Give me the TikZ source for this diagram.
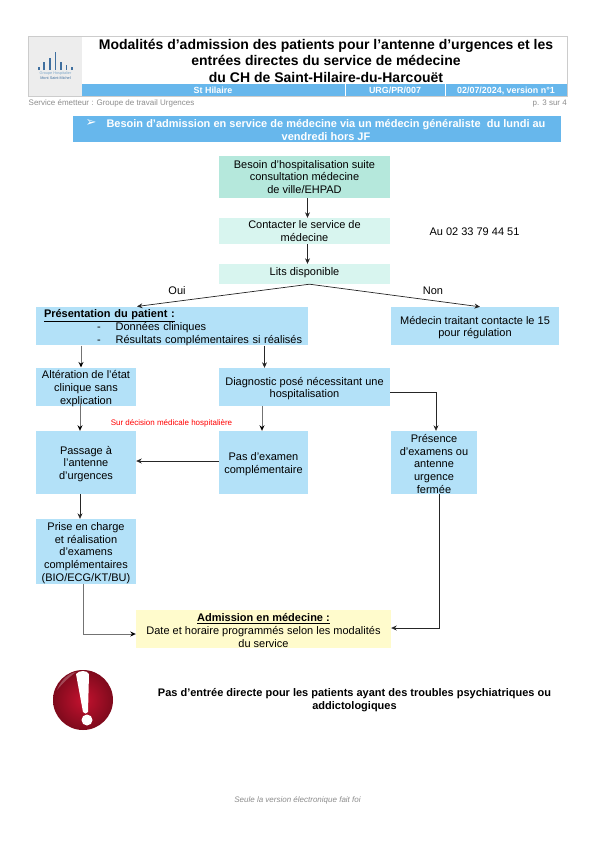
\documentclass[tikz,border=0pt]{standalone}
\usepackage{fontspec}
\setmainfont{Liberation Sans}
\newfontfamily\symbolfont{DejaVu Sans}
\usepackage{tikz}
\usetikzlibrary{positioning,shadings,arrows.meta}

\definecolor{barblue}{HTML}{67B7EC}
\definecolor{boxblue}{HTML}{B3E1F8}
\definecolor{boxmint}{HTML}{B5E8DC}
\definecolor{boxpale}{HTML}{D8F5EF}
\definecolor{boxyellow}{HTML}{FFFBCC}
\definecolor{logoblue}{HTML}{3F6F9F}
\definecolor{logopale}{HTML}{7FA8C9}
\definecolor{alertred}{HTML}{C4122F}
\definecolor{alertdark}{HTML}{7E0A1C}

\newcommand{\lift}{\rule{0pt}{11pt}}

\tikzset{
  flowbox/.style={fill=boxblue, inner xsep=1pt, inner ysep=0pt, align=center},
  flowlink/.style={->, line width=0.7pt, black!85},
  greylink/.style={-{Stealth[length=5.5pt,width=5pt,black]}, line width=1pt, black!55},
  greynote/.style={black!45, font=\fontsize{8}{9}\selectfont},
  headcell/.style={white, anchor=base, inner sep=0pt, font=\fontsize{8.9}{10}\selectfont\bfseries},
  logobar/.style={logoblue, line width=1.1pt}
}

\begin{document}
\begin{tikzpicture}[x=1pt, y=-1pt, >={Stealth[length=5.5pt,width=5pt]}, every node/.style={font=\fontsize{11}{12.7}\selectfont}]
  \useasboundingbox (0,0) rectangle (595,841);

  % Header frame
  \fill[black!7] (28,36) rectangle (82,96);
  \draw[black!20, line width=0.6pt] (28,36) rectangle (567,96);
  \fill[barblue] (82,84) rectangle (567,96);
  \draw[white, line width=0.7pt] (345,84) -- (345,96);
  \draw[white, line width=0.7pt] (445,84) -- (445,96);

  % Logo
  \foreach \x/\h in {39/67, 44/62, 50/58, 55.5/52, 61/62, 66.5/65, 72/67} {
    \draw[logobar] (\x,70) -- (\x,\h);
  }
  \node[logopale, inner sep=0pt, font=\fontsize{3.8}{4.5}\selectfont] (logotop) at (55.5,73.5) {Groupe Hospitalier};
  \node[logoblue, inner sep=0pt, font=\fontsize{3.8}{4.5}\selectfont] (logobottom) at (55.5,78) {Mont Saint-Michel};

  % Title and header cells
  \node[font=\fontsize{14}{16.5}\selectfont\bfseries, align=center, inner sep=0pt] (title) at (326,60.5)
    {Modalités d’admission des patients pour l’antenne d’urgences et les\\entrées directes du service de médecine\\du CH de Saint-Hilaire-du-Harcouët};
  \node[headcell] (site) at (213,93.5) {St Hilaire};
  \node[headcell] (ref) at (395,93.5) {URG/PR/007};
  \node[headcell] (date) at (506,93.5) {02/07/2024, version n°1};
  \node[greynote, anchor=base west, inner sep=0pt] (service) at (28.5,105) {Service émetteur : Groupe de travail Urgences};
  \node[greynote, anchor=base east, inner sep=0pt] (page) at (567,105) {p. 3 sur 4};

  % Banner
  \fill[barblue] (73,116) rectangle (561,142);
  \node[white, font=\fontsize{13}{13}\symbolfont, inner sep=0pt] (bullet) at (91,123.5) {➢};
  \node[white, font=\fontsize{11}{13}\selectfont\bfseries, align=center, inner sep=0pt] (banner) at (326,130)
    {Besoin d’admission en service de médecine via un médecin généraliste\ \ du lundi au\\vendredi hors JF};

  % Flow boxes
  \node[flowbox, fill=boxmint, minimum width=171pt, minimum height=42pt] (besoin) at (304.5,177)
    {Besoin d’hospitalisation suite\\consultation médecine\\de ville/EHPAD};
  \node[flowbox, fill=boxpale, minimum width=171pt, minimum height=26pt] (contact) at (304.5,231)
    {Contacter le service de\\médecine};
  \node[flowbox, fill=boxpale, minimum width=171pt, minimum height=20pt, text depth=4pt] (lits) at (304.5,274)
    {Lits disponible};
  \node[flowbox, align=left, text width=270pt, minimum height=38pt] (presentation) at (172,326)
    {\lift\hspace*{7pt}\textbf{\underline{Présentation du patient :}}\\
     \hspace*{60pt}-\hspace{15pt}Données cliniques\\
     \hspace*{60pt}-\hspace{15pt}Résultats complémentaires si réalisés};
  \node[flowbox, minimum width=168pt, minimum height=38pt] (regulation) at (475,326)
    {\lift Médecin traitant contacte le 15\\pour régulation};
  \node[flowbox, minimum width=100pt, minimum height=38pt] (alteration) at (86,387)
    {\lift Altération de l’état\\clinique sans\\explication};
  \node[flowbox, minimum width=171pt, minimum height=38pt] (diagnostic) at (304.5,387)
    {\lift Diagnostic posé nécessitant une\\hospitalisation};
  \node[flowbox, minimum width=100pt, minimum height=63pt] (passage) at (86,462.5)
    {\lift Passage à\\l’antenne\\d’urgences};
  \node[flowbox, minimum width=89pt, minimum height=63pt] (examen) at (263.5,462.5)
    {\lift Pas d’examen\\complémentaire};
  \node[flowbox, minimum width=86pt, minimum height=63pt] (presence) at (434,462.5)
    {\lift Présence\\d’examens ou\\antenne\\urgence\\fermée};
  \node[flowbox, minimum width=100pt, minimum height=65pt] (prise) at (86,551.5)
    {\lift Prise en charge\\et réalisation\\d’examens\\complémentaires\\(BIO/ECG/KT/BU)};
  \node[flowbox, fill=boxyellow, minimum width=255pt, minimum height=38pt] (admission) at (263.5,629)
    {\lift\textbf{\underline{Admission en médecine :}}\\Date et horaire programmés selon les modalités\\du service};

  % Free texts
  \node[inner sep=0pt] (phone) at (474.5,232) {Au 02 33 79 44 51};
  \node[inner sep=0pt] (oui) at (177,291) {Oui};
  \node[inner sep=0pt] (non) at (433,291) {Non};
  \node[red, inner sep=0pt, font=\fontsize{8}{9}\selectfont] (decision) at (171.5,423.5) {Sur décision médicale hospitalière};
  \node[font=\fontsize{11}{13}\selectfont\bfseries, align=center, inner sep=0pt] (warning) at (354.5,700.5)
    {Pas d’entrée directe pour les patients ayant des troubles psychiatriques ou\\addictologiques};
  \node[black!45, inner sep=0pt, font=\fontsize{8}{9}\selectfont\itshape] (footer) at (297.5,800.5) {Seule la version électronique fait foi};

  % Warning icon
  \shade[inner color=alertred, outer color=alertdark] (83,700) circle (30);
  \fill[white, opacity=0.25] (57,690) .. controls (62,678) and (70,673) .. (76,672) .. controls (68,678) and (62,684) .. (57,690) -- cycle;
  \fill[white] (76,674) .. controls (79,670) and (87,670) .. (89,674) -- (88,712) .. controls (87,714) and (84,714) .. (83,712) -- cycle;
  \fill[white] (87,720) circle (5.5);

  % Connectors
  \draw[flowlink] ([xshift=3pt]besoin.south) -- ([xshift=3pt]contact.north);
  \draw[flowlink] ([xshift=3pt]contact.south) -- ([xshift=3pt]lits.north);
  \draw[flowlink] ([xshift=5pt]lits.south) -- ([xshift=-35pt]presentation.north);
  \draw[flowlink] ([xshift=5pt]lits.south) -- ([xshift=5pt]regulation.north);
  \draw[greylink] ([xshift=-5pt]alteration.north |- presentation.south) -- ([xshift=-5pt]alteration.north);
  \draw[flowlink] ([xshift=-40pt]diagnostic.north |- presentation.south) -- ([xshift=-40pt]diagnostic.north);
  \draw[greylink] ([xshift=-6pt,yshift=4pt]alteration.south) -- ([xshift=-6pt]passage.north);
  \draw[greylink] ([xshift=-1.5pt]examen.north |- diagnostic.south) -- ([xshift=-1.5pt]examen.north);
  \draw[flowlink] ([yshift=1.5pt]examen.west) -- ([yshift=1.5pt]passage.east);
  \draw[flowlink] ([yshift=-5pt]diagnostic.east) -- (436,392) -- ([xshift=2pt]presence.north);
  \draw[flowlink] ([xshift=5pt]presence.south) -- (439,628) -- ([yshift=1pt]admission.east);
  \draw[flowlink] ([xshift=-6pt]passage.south) -- ([xshift=-6pt]prise.north);
  \draw[greylink] ([xshift=-3pt]prise.south) -- (83,634) -- ([yshift=-5pt]admission.west);
\end{tikzpicture}
\end{document}
